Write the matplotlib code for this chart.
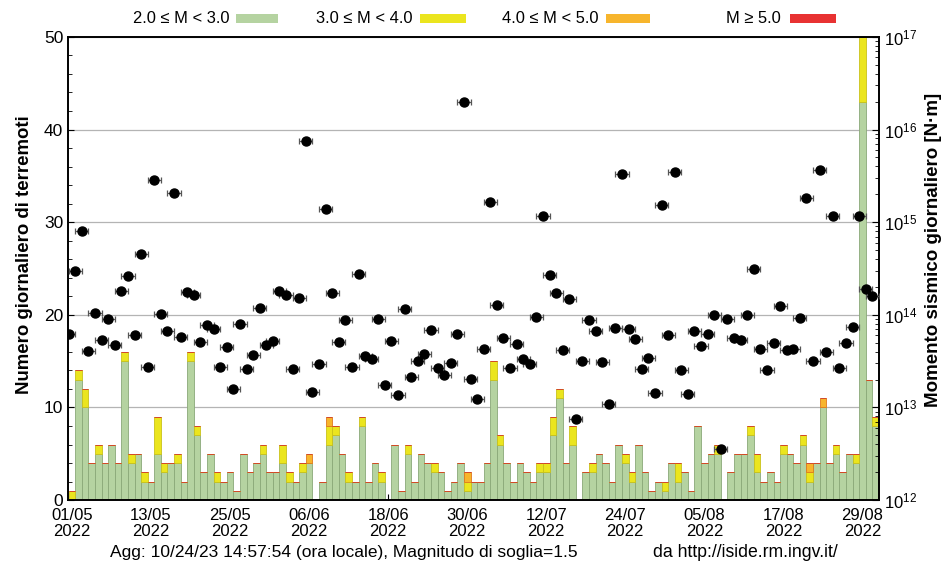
import numpy as np
import pandas as pd
import matplotlib
matplotlib.use("Agg")
import matplotlib.pyplot as plt
from matplotlib.patches import Rectangle
from matplotlib.ticker import MultipleLocator, LogLocator, NullFormatter

plt.rcParams['font.family'] = ['Liberation Sans', 'DejaVu Sans']

# giorni dal 01/05/2022 al 31/08/2022
giorni = pd.date_range('2022-05-01', periods=123)

# numero giornaliero di terremoti per classe di magnitudo
m2_3 = [0, 13, 10, 4, 5, 4, 6, 4, 15, 4, 5, 2, 2, 5, 3, 4, 4, 2, 15, 7,
        3, 5, 2, 2, 3, 1, 5, 3, 4, 5, 3, 3, 4, 2, 2, 3, 4, 0, 2, 6,
        7, 5, 2, 2, 8, 2, 4, 2, 0, 6, 1, 5, 2, 5, 4, 3, 3, 1, 2, 4,
        1, 2, 2, 4, 13, 6, 4, 2, 4, 3, 2, 3, 3, 7, 11, 4, 6, 0, 3, 3,
        5, 4, 2, 6, 4, 2, 6, 3, 1, 2, 1, 4, 2, 3, 1, 8, 4, 5, 5, 0,
        3, 5, 5, 7, 3, 2, 3, 2, 5, 5, 4, 6, 2, 4, 10, 4, 5, 3, 5, 4,
        43, 13, 8]
m3_4 = [1, 1, 2, 0, 1, 0, 0, 0, 1, 1, 0, 1, 0, 4, 1, 0, 1, 0, 1, 1,
        0, 0, 1, 0, 0, 0, 0, 0, 0, 1, 0, 0, 2, 1, 0, 1, 0, 0, 0, 2,
        1, 0, 1, 0, 1, 0, 0, 1, 0, 0, 0, 1, 0, 0, 0, 1, 0, 0, 0, 0,
        1, 0, 0, 0, 2, 1, 0, 0, 0, 0, 0, 1, 1, 2, 1, 0, 2, 0, 0, 1,
        0, 0, 0, 0, 1, 1, 0, 0, 0, 0, 1, 0, 2, 0, 0, 0, 0, 0, 1, 0,
        0, 0, 0, 1, 2, 0, 0, 0, 1, 0, 0, 1, 1, 0, 0, 0, 1, 0, 0, 1,
        7, 0, 1]
m4_5 = [0] * 123
for i in [36, 39, 60, 112, 114]:
    m4_5[i] = 1
m5 = [0] * 123

# momento sismico giornaliero (log10 N*m)
log_momento = [13.79, 14.47, 14.90, 13.61, 14.02, 13.73, 13.96, 13.67, 14.26, 14.42,
               13.78, 14.66, 13.44, 15.45, 14.01, 13.83, 15.31, 13.76, 14.25, 14.21,
               13.71, 13.89, 13.85, 13.44, 13.65, 13.20, 13.90, 13.42, 13.57, 14.07,
               13.67, 13.72, 14.26, 14.21, 13.42, 14.18, 15.88, 13.17, 13.47, 15.14,
               14.24, 13.71, 13.94, 13.44, 14.44, 13.55, 13.52, 13.96, 13.24, 13.72,
               13.13, 14.06, 13.33, 13.50, 13.58, 13.84, 13.43, 13.35, 13.48, 13.79,
               16.30, 13.31, 13.09, 13.63, 15.22, 14.11, 13.75, 13.43, 13.69, 13.52,
               13.47, 13.98, 15.07, 14.43, 14.23, 13.62, 14.17, 12.87, 13.50, 13.94,
               13.83, 13.49, 13.04, 13.86, 15.52, 13.85, 13.74, 13.41, 13.53, 13.16,
               15.18, 13.78, 15.54, 13.40, 13.15, 13.82, 13.66, 13.79, 14.00, 12.55,
               13.96, 13.75, 13.73, 14.00, 14.49, 13.63, 13.40, 13.70, 14.09, 13.62,
               13.63, 13.97, 15.26, 13.50, 15.56, 13.60, 15.07, 13.43, 13.70, 13.87,
               15.07, 14.28, 14.20]

etichette = ['2.0 ≤ M < 3.0', '3.0 ≤ M < 4.0', '4.0 ≤ M < 5.0', 'M ≥ 5.0']
colori = ['#b5d3a1', '#ebe51e', '#f7b52c', '#e83232']
bordi = ['#8aa878', '#c9c21a', '#e0781c', '#d0402a']

fig = plt.figure(figsize=(9.41, 5.67), dpi=100)
ax = fig.add_axes([0.0723, 0.118, 0.8617, 0.817])

x = np.arange(len(giorni))
base = np.zeros(len(x))
for serie, col, bo in zip([m2_3, m3_4, m4_5, m5], colori, bordi):
    serie = np.array(serie, dtype=float)
    ax.bar(x, serie, width=1.0, bottom=base, color=col, edgecolor=bo,
           linewidth=0.6, zorder=2)
    base = base + serie

ax.set_xlim(-0.6, 122.5)
ax.set_ylim(0, 50)
ax.yaxis.set_major_locator(MultipleLocator(10))
ax.yaxis.set_minor_locator(MultipleLocator(2))
ax.grid(axis='y', color='#b4b4b4', linewidth=0.9, zorder=0)
ax.set_axisbelow(True)

pos_tick = x[::12]
ax.set_xticks(pos_tick)
ax.set_xticklabels([g.strftime('%d/%m\n%Y') for g in giorni[::12]], fontsize=12,
                   linespacing=1.05)
ax.tick_params(axis='y', direction='in', labelsize=12.5, length=4)
ax.tick_params(axis='x', direction='in', length=4, pad=6)
ax.tick_params(axis='y', which='minor', direction='in', length=3)
ax.set_ylabel('Numero giornaliero di terremoti', fontsize=13.4, fontweight='bold',
              labelpad=8)
ax.yaxis.label.set_y(0.53)

# asse destro: momento sismico
ax2 = ax.twinx()
ax2.set_yscale('log')
ax2.set_ylim(1e12, 1e17)
ax2.yaxis.set_major_locator(LogLocator(base=10, numticks=10))
ax2.yaxis.set_minor_locator(LogLocator(base=10, subs=np.arange(2, 10), numticks=10))
ax2.yaxis.set_minor_formatter(NullFormatter())
ax2.tick_params(axis='y', which='major', direction='in', length=5, labelsize=12)
ax2.tick_params(axis='y', which='minor', direction='in', length=3)
ax2.set_ylabel('Momento sismico giornaliero [N·m]', fontsize=13.5, fontweight='bold',
               labelpad=6)
ax2.yaxis.label.set_y(0.54)

xm = x - 0.5
ax2.errorbar(xm, 10 ** np.array(log_momento), xerr=1.0, fmt='o', color='black',
             markersize=6.5, ecolor='#555555', elinewidth=0.9, capsize=2.5,
             capthick=0.9, zorder=5, clip_on=True)
ax2.set_xlim(-0.6, 122.5)

for a in [ax, ax2]:
    for s in a.spines.values():
        s.set_linewidth(1.2)

# legenda in alto
leg_testo_x = [0.2444, 0.4380, 0.6355, 0.8300]
leg_box_x = [0.2510, 0.4463, 0.6440, 0.8395]
leg_box_w = [0.0446, 0.0489, 0.0468, 0.0489]
for t, tx, bx, bw, col in zip(etichette, leg_testo_x, leg_box_x, leg_box_w, colori):
    fig.text(tx, 0.967, t, ha='right', va='center', fontsize=11.9)
    fig.patches.append(Rectangle((bx, 0.959), bw, 0.017, transform=fig.transFigure,
                                 facecolor=col, edgecolor='none'))

fig.text(0.117, 0.026, 'Agg: 10/24/23 14:57:54 (ora locale), Magnitudo di soglia=1.5',
         ha='left', va='center', fontsize=12.5)
fig.text(0.694, 0.026, 'da http://iside.rm.ingv.it/', ha='left', va='center', fontsize=12.7)

fig.savefig('out.png', dpi=100)
